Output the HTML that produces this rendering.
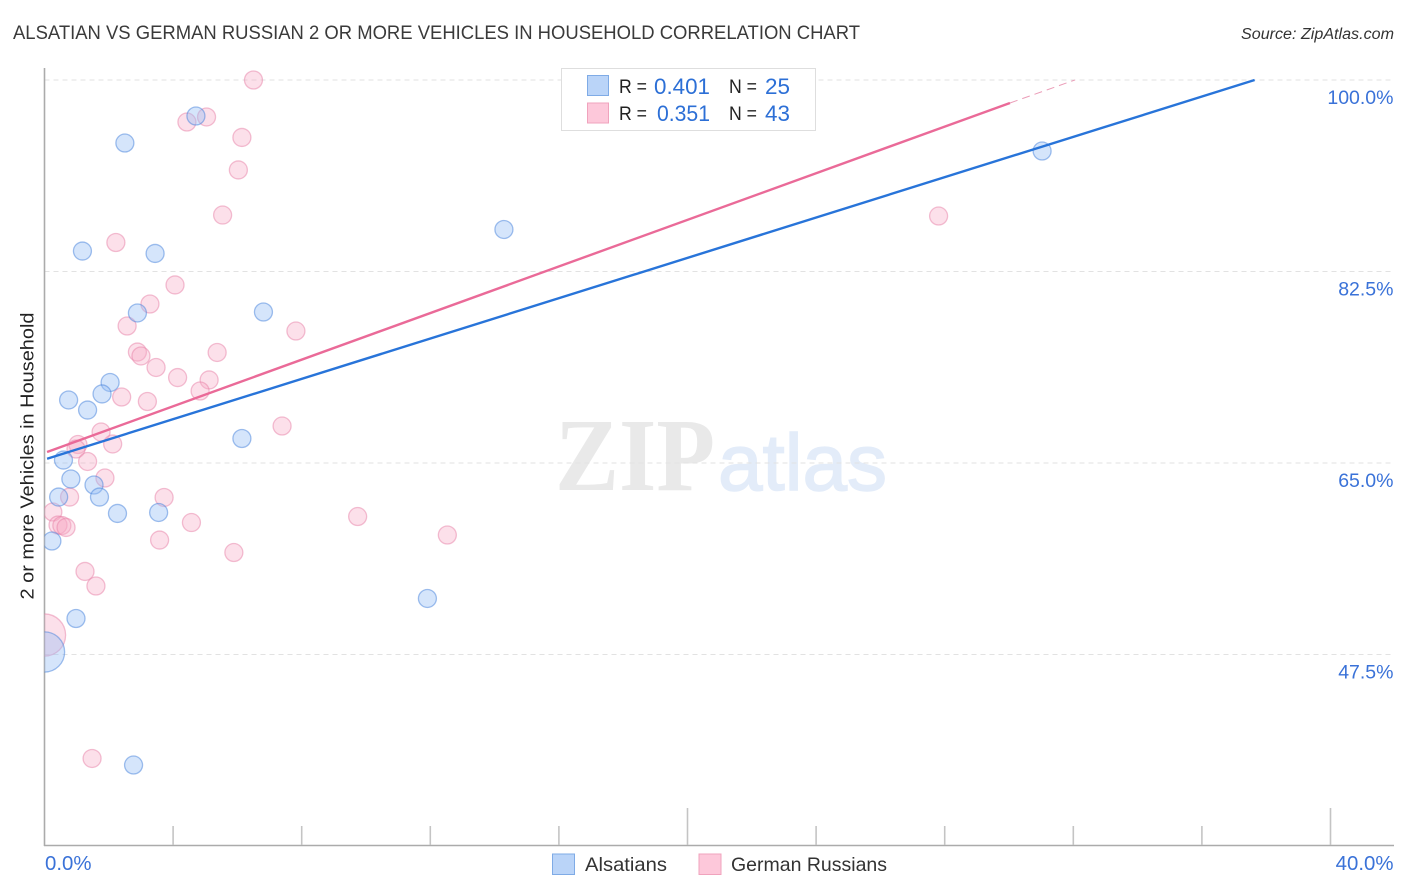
<!DOCTYPE html>
<html lang="en">
<head>
<meta charset="utf-8">
<title>Alsatian vs German Russian 2 or more Vehicles in Household Correlation Chart</title>
<style>
html,body{margin:0;padding:0;background:#fff;width:1406px;height:892px;overflow:hidden}
svg{display:block}
text{font-family:"Liberation Sans",sans-serif}
</style>
</head>
<body>
<svg id="chart" xmlns="http://www.w3.org/2000/svg" width="1406" height="892" viewBox="0 0 1406 892">
  <defs>
    <clipPath id="plot-clip"><rect x="44.5" y="60" width="1350" height="786"/></clipPath>
  </defs>
  <text x="13" y="39" font-size="19" fill="#3a3a3a" textLength="847" lengthAdjust="spacingAndGlyphs">ALSATIAN VS GERMAN RUSSIAN 2 OR MORE VEHICLES IN HOUSEHOLD CORRELATION CHART</text>
  <text x="1394" y="39" font-size="15.5" font-style="italic" fill="#333" text-anchor="end" textLength="153" lengthAdjust="spacingAndGlyphs">Source: ZipAtlas.com</text>

  <g>
    <text x="555" y="490" style="font-family:'Liberation Serif',serif;font-weight:bold" font-size="104" fill="#e9e9e9" textLength="160" lengthAdjust="spacingAndGlyphs">ZIP</text>
    <text x="718" y="490" font-size="80" fill="#e3ecf9" stroke="#e3ecf9" stroke-width="1.5" textLength="169" lengthAdjust="spacingAndGlyphs">atlas</text>
  </g>

  <g id="grid"></g>
  <g id="axes"></g>
  <g id="points" clip-path="url(#plot-clip)"></g>
  <g id="trends"></g>
  <g id="ylabels"></g>
  <g id="xlabels"></g>

  <text transform="translate(33.5 456) rotate(-90)" font-size="18.5" fill="#222" text-anchor="middle" textLength="287" lengthAdjust="spacingAndGlyphs">2 or more Vehicles in Household</text>

  <g>
    <rect x="561.5" y="68.5" width="254" height="62" fill="#fff" stroke="#dedede" stroke-width="1"/>
    <rect x="587.5" y="75.5" width="21" height="20" fill="#bad4f8" stroke="#7fabe6" stroke-width="1"/>
    <rect x="587.5" y="103" width="21" height="20" fill="#fdc8da" stroke="#f0a3bd" stroke-width="1"/>
    <text x="619" y="93" font-size="19.5" fill="#222" textLength="28" lengthAdjust="spacingAndGlyphs">R =</text>
    <text x="654" y="94" font-size="22" fill="#2c6fd6" textLength="56" lengthAdjust="spacingAndGlyphs">0.401</text>
    <text x="729" y="93" font-size="19.5" fill="#222" textLength="28" lengthAdjust="spacingAndGlyphs">N =</text>
    <text x="765" y="94" font-size="22" fill="#2c6fd6" textLength="25" lengthAdjust="spacingAndGlyphs">25</text>
    <text x="619" y="120" font-size="19.5" fill="#222" textLength="28" lengthAdjust="spacingAndGlyphs">R =</text>
    <text x="657" y="121" font-size="22" fill="#2c6fd6" textLength="53" lengthAdjust="spacingAndGlyphs">0.351</text>
    <text x="729" y="120" font-size="19.5" fill="#222" textLength="28" lengthAdjust="spacingAndGlyphs">N =</text>
    <text x="765" y="121" font-size="22" fill="#2c6fd6" textLength="25" lengthAdjust="spacingAndGlyphs">43</text>
  </g>

  <g>
    <rect x="552.5" y="854" width="22" height="20.5" fill="#bad4f8" stroke="#7fabe6" stroke-width="1"/>
    <text x="585" y="871" font-size="19.5" fill="#333" textLength="82" lengthAdjust="spacingAndGlyphs">Alsatians</text>
    <rect x="699" y="854" width="22" height="20.5" fill="#fdc8da" stroke="#f0a3bd" stroke-width="1"/>
    <text x="731" y="871" font-size="19.5" fill="#333" textLength="156" lengthAdjust="spacingAndGlyphs">German Russians</text>
  </g>
</svg>

<script>
const yTickValues = [100, 82.5, 65, 47.5];
const yTickLabels = ["100.0%", "82.5%", "65.0%", "47.5%"];
const xTickValues = [0, 4, 8, 12, 16, 20, 24, 28, 32, 36, 40];
const xEdgeLabels = ["0.0%", "40.0%"];

const alsatianX = [4.71, 2.50, 31.03, 14.29, 1.18, 3.44, 2.89, 6.81, 2.04, 1.79, 0.75, 1.34, 6.14, 0.59, 0.82, 1.54, 0.44, 1.71, 2.27, 3.55, 0.23, 11.91, 0.98, 0, 2.77];
const alsatianY = [96.71, 94.24, 93.51, 86.34, 84.37, 84.15, 78.71, 78.80, 72.36, 71.31, 70.76, 69.84, 67.24, 65.27, 63.54, 62.99, 61.89, 61.89, 60.39, 60.48, 57.87, 52.62, 50.79, 47.73, 37.40];
const alsatianWeights = [1, 1, 1, 1, 1, 1, 1, 1, 1, 1, 1, 1, 1, 1, 1, 1, 1, 1, 1, 1, 1, 1, 1, 5, 1];

const germanRussianX = [6.50, 5.04, 4.43, 6.14, 6.03, 5.54, 27.81, 2.22, 4.06, 3.28, 2.57, 7.82, 2.89, 3.00, 5.37, 3.47, 4.14, 5.12, 4.84, 2.40, 3.20, 7.39, 1.76, 1.04, 2.12, 0.98, 1.34, 1.88, 3.72, 0.78, 0.26, 9.74, 4.57, 0.42, 0.54, 0.67, 3.58, 12.53, 5.89, 1.26, 1.60, 0, 1.48];
const germanRussianY = [100, 96.62, 96.16, 94.75, 91.78, 87.66, 87.57, 85.15, 81.27, 79.53, 77.52, 77.06, 75.14, 74.78, 75.10, 73.73, 72.81, 72.59, 71.58, 71.03, 70.62, 68.38, 67.83, 66.69, 66.74, 66.28, 65.14, 63.63, 61.85, 61.89, 60.52, 60.11, 59.56, 59.33, 59.29, 59.11, 57.96, 58.42, 56.82, 55.09, 53.76, 49.28, 38.00];
const germanRussianWeights = [1, 1, 1, 1, 1, 1, 1, 1, 1, 1, 1, 1, 1, 1, 1, 1, 1, 1, 1, 1, 1, 1, 1, 1, 1, 1, 1, 1, 1, 1, 1, 1, 1, 1, 1, 1, 1, 1, 1, 1, 1, 5.5, 1];

const alsatianTrendX = [0.08, 37.64];
const alsatianTrendY = [65.39, 100];
const germanRussianTrendX = [0.08, 30.03];
const germanRussianTrendY = [66.01, 97.90];
const germanRussianTrendExtX = [30.03, 32.05];
const germanRussianTrendExtY = [97.90, 100];

const SVG_NS = "http://www.w3.org/2000/svg";
function xScale(v) { return 44.5 + v * 32.15; }
function yScale(v) { return 80 + (100 - v) * 10.943; }
function rScale(w) { return 9 * Math.sqrt(w); }
function make(tag, attrs, parent) {
  const el = document.createElementNS(SVG_NS, tag);
  for (const k in attrs) el.setAttribute(k, attrs[k]);
  parent.appendChild(el);
  return el;
}

const grid = document.getElementById("grid");
const axes = document.getElementById("axes");
const points = document.getElementById("points");
const trends = document.getElementById("trends");
const ylabels = document.getElementById("ylabels");
const xlabels = document.getElementById("xlabels");

yTickValues.forEach(function (v, i) {
  const y = yScale(v);
  const line = make("line", {x1: 44.5, x2: 1394, y1: y, y2: y, stroke: "#e2e2e2", "stroke-width": 1, "stroke-dasharray": "5 4"}, grid);
  
  
  const label = make("text", {x: 1393.5, y: y + 24, "font-size": 19.5, fill: "#3a72d8", "text-anchor": "end"}, ylabels);
  
  
  label.textContent = yTickLabels[i];
});

const yAxisLine = make("line", {x1: 44.5, x2: 44.5, y1: 68, y2: 846, stroke: "#ababab", "stroke-width": 1.6}, axes);


const xAxisLine = make("line", {x1: 44, x2: 1394, y1: 845.5, y2: 845.5, stroke: "#ababab", "stroke-width": 1.6}, axes);



xTickValues.forEach(function (v) {
  if (v === 0) return;
  const x = xScale(v);
  const major = v === 20 || v === 40;
  const tick = make("line", {x1: x, x2: x, y1: major ? 808 : 826, y2: 845, stroke: "#c4c4c4", "stroke-width": 1.6}, axes);
  
  
});

const xLabelLeft = make("text", {x: 45, y: 870, "font-size": 20.4, fill: "#3a72d8"}, xlabels);


xLabelLeft.textContent = xEdgeLabels[0];
const xLabelRight = make("text", {x: 1393.5, y: 870, "font-size": 20.4, fill: "#3a72d8", "text-anchor": "end"}, xlabels);


xLabelRight.textContent = xEdgeLabels[1];

germanRussianX.forEach(function (v, i) {
  const c = make("circle", {cx: xScale(v), cy: yScale(germanRussianY[i]), r: rScale(germanRussianWeights[i]), fill: "rgba(248,170,196,0.36)", stroke: "rgba(232,130,168,0.5)", "stroke-width": 1.3}, points);
  
  
});
alsatianX.forEach(function (v, i) {
  const c = make("circle", {cx: xScale(v), cy: yScale(alsatianY[i]), r: rScale(alsatianWeights[i]), fill: "rgba(150,190,245,0.4)", stroke: "rgba(70,130,220,0.5)", "stroke-width": 1.3}, points);
  
  
});

const alsatianTrend = make("line", {x1: xScale(alsatianTrendX[0]), y1: yScale(alsatianTrendY[0]), x2: xScale(alsatianTrendX[1]), y2: yScale(alsatianTrendY[1]), stroke: "#2874d9", "stroke-width": 2.4}, trends);


const germanRussianTrend = make("line", {x1: xScale(germanRussianTrendX[0]), y1: yScale(germanRussianTrendY[0]), x2: xScale(germanRussianTrendX[1]), y2: yScale(germanRussianTrendY[1]), stroke: "#ea6a98", "stroke-width": 2.4}, trends);


const germanRussianExt = make("line", {x1: xScale(germanRussianTrendExtX[0]), y1: yScale(germanRussianTrendExtY[0]), x2: xScale(germanRussianTrendExtX[1]), y2: yScale(germanRussianTrendExtY[1]), stroke: "#eb9db8", "stroke-width": 1, "stroke-dasharray": "8 5"}, trends);


</script>
</body>
</html>
